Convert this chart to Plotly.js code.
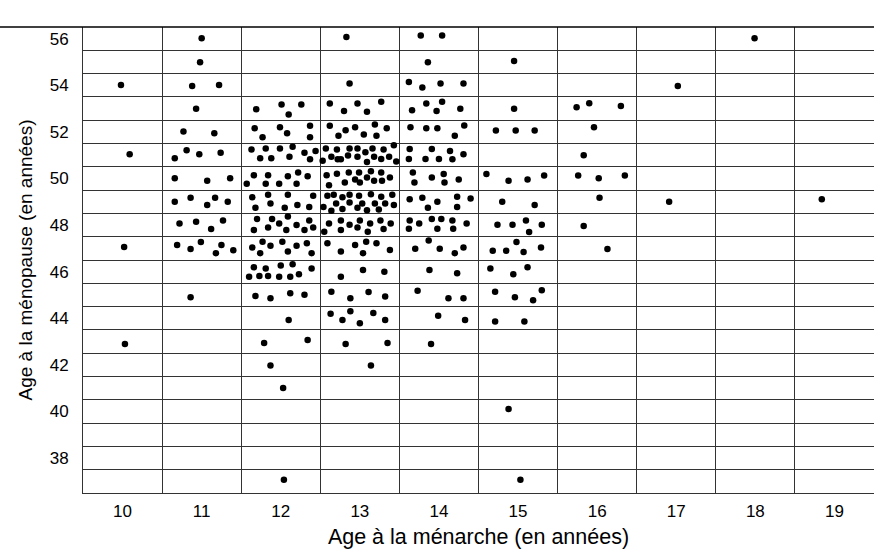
<!DOCTYPE html>
<html><head><meta charset="utf-8">
<script src="https://cdn.plot.ly/plotly-3.0.1.min.js"></script>
<style>html,body{margin:0;padding:0;background:#fff}#chart{width:874px;height:549px}</style>
</head><body><div id="chart"></div>
<script>
// Age at menarche (x) and age at menopause (y), one pair of arrays per menarche column
const menarche10 = [9.98, 10.09, 10.02, 10.03];
const menopause10 = [54.01, 51.04, 47.06, 42.90];

const menarche11 = [11.00, 10.98, 10.88, 11.22, 10.93, 10.77, 11.16, 10.81, 10.66, 10.97, 11.24, 10.66, 11.07, 11.36, 10.66, 10.86, 11.07, 11.17, 11.33, 10.72, 10.93, 11.12, 11.27, 10.69, 10.86, 10.99, 11.25, 11.18, 11.40, 10.86];
const menopause11 = [56.02, 54.99, 53.97, 54.01, 52.99, 52.02, 51.94, 51.21, 50.87, 51.04, 51.10, 50.01, 49.90, 50.01, 49.00, 49.17, 48.86, 49.17, 49.00, 48.07, 48.14, 47.83, 48.20, 47.14, 46.97, 47.27, 47.14, 46.79, 46.92, 44.90];

const menarche12 = [11.69, 12.01, 12.10, 12.26,
  11.67, 11.77, 11.99, 12.08, 12.37, 12.37,
  11.63, 11.81, 11.99, 12.15, 11.74, 11.88, 12.11, 12.30, 12.44, 12.37,
  11.66, 11.84, 11.57, 11.81, 11.98, 12.09, 12.22, 12.34, 12.20,
  11.64, 11.84, 12.09, 12.41, 11.68, 11.87, 12.05, 12.21, 12.36,
  11.70, 11.89, 11.98, 12.09, 11.66, 11.84, 12.07, 12.20, 12.30, 12.36, 12.41,
  11.64, 11.74, 11.77, 11.87, 12.02, 12.09, 12.20, 12.33, 12.39,
  11.66, 11.81, 12.00, 12.15, 12.39, 11.60, 11.73, 11.84, 11.98, 12.12, 12.23,
  11.68, 11.87, 12.12, 12.30,
  12.10, 11.79, 12.34, 11.87, 12.03, 12.04];
const menopause12 = [52.97, 53.17, 52.74, 53.17,
  52.15, 51.77, 52.20, 51.94, 52.26, 51.77,
  51.24, 51.29, 51.29, 51.36, 50.87, 50.87, 50.93, 51.10, 51.18, 50.82,
  50.14, 50.14, 49.77, 49.77, 49.77, 50.09, 50.26, 50.09, 49.77,
  49.19, 49.30, 49.30, 49.26, 48.74, 48.93, 48.74, 48.86, 48.78,
  48.26, 48.26, 48.07, 48.37, 47.79, 47.90, 47.79, 48.00, 47.79, 48.20, 47.90,
  47.04, 46.79, 47.28, 47.11, 47.28, 46.86, 47.11, 47.22, 46.79,
  46.19, 46.14, 46.26, 46.32, 46.14, 45.78, 45.81, 45.81, 45.78, 45.78, 45.89,
  44.96, 44.86, 45.07, 45.01,
  43.93, 42.94, 43.07, 41.97, 41.01, 37.07];

const menarche13 = [12.83, 12.87,
  12.62, 12.80, 12.97, 13.09, 13.27,
  12.62, 12.73, 12.82, 12.94, 13.05, 13.19, 13.21, 13.34,
  12.53, 12.57, 12.71, 12.87, 12.97, 12.64, 12.72, 12.76, 12.85, 12.97, 13.07, 13.16, 13.30, 13.43, 13.09, 13.18, 13.27, 13.37, 13.46,
  12.58, 12.71, 12.86, 12.99, 12.61, 12.81, 12.94, 13.14, 13.27, 13.09, 13.18, 13.28, 13.38, 13.00,
  12.59, 12.67, 12.78, 12.87, 12.99, 13.14, 13.27, 13.41, 12.54, 12.64, 12.70, 12.78, 12.87, 12.97, 13.03, 13.09, 13.19, 13.24, 13.32, 13.43,
  12.55, 12.61, 12.76, 12.76, 12.87, 12.97, 13.00, 13.13, 13.10, 13.26, 13.30, 13.39,
  12.59, 12.76, 12.94, 13.08, 13.21, 13.04, 13.38,
  12.76, 13.04, 13.31,
  12.64, 12.88, 13.11, 13.32,
  12.63, 12.78, 12.88, 13.00, 13.17, 13.32,
  12.82, 13.35, 13.14];
const menopause13 = [56.07, 54.07,
  53.22, 52.89, 53.22, 52.86, 53.29,
  52.26, 51.83, 52.07, 52.20, 51.89, 52.32, 51.83, 52.15,
  50.76, 51.29, 51.24, 51.29, 51.29, 50.93, 50.82, 50.82, 50.99, 50.93, 51.12, 51.29, 51.24, 51.42, 50.71, 50.93, 50.83, 50.93, 50.73,
  50.14, 50.20, 50.26, 50.26, 49.71, 49.83, 49.96, 50.31, 50.26, 50.04, 49.90, 49.90, 50.04, 49.83,
  49.26, 49.30, 49.19, 49.30, 49.26, 49.32, 49.21, 49.30, 48.78, 48.61, 48.93, 48.69, 48.97, 48.74, 48.93, 48.64, 48.93, 48.67, 48.93, 48.86,
  47.71, 48.07, 48.20, 47.79, 48.01, 47.90, 48.20, 48.07, 47.71, 48.20, 47.83, 48.07,
  47.22, 46.86, 47.14, 47.28, 47.22, 46.79, 46.93,
  45.78, 46.07, 46.00,
  45.14, 44.86, 45.13, 44.93,
  44.19, 43.93, 44.30, 43.79, 44.23, 43.93,
  42.89, 42.94, 41.97];

const menarche14 = [13.77, 14.04, 13.86,
  13.62, 13.79, 14.02, 14.31,
  13.66, 13.84, 13.97, 14.04, 14.27,
  13.64, 13.84, 13.98, 14.20, 14.32,
  13.63, 13.91, 14.14, 14.31, 13.62, 13.83, 14.00, 14.17,
  13.67, 13.91, 14.06, 14.25, 13.69, 14.07,
  13.63, 13.79, 14.23, 14.40, 13.86, 13.98, 14.23,
  13.63, 13.62, 13.75, 13.91, 14.03, 13.98, 14.17, 14.18, 14.35,
  13.87, 13.70, 14.01, 14.20, 14.31,
  13.88, 14.23,
  13.73, 14.12, 14.31,
  13.99, 14.33, 13.90];
const menopause14 = [56.14, 56.14, 54.99,
  54.14, 53.90, 54.07, 54.07,
  52.93, 53.22, 52.89, 53.29, 52.99,
  52.20, 52.15, 52.15, 51.83, 52.27,
  51.26, 51.26, 51.18, 51.04, 50.83, 50.83, 50.83, 50.82,
  50.26, 50.04, 50.19, 49.96, 49.83, 49.83,
  49.11, 49.17, 49.21, 49.14, 48.74, 49.00, 48.78,
  48.20, 47.84, 48.07, 48.26, 48.26, 47.84, 48.20, 47.84, 48.07,
  47.34, 46.98, 46.98, 46.79, 47.04,
  46.07, 45.93,
  45.18, 44.86, 44.86,
  44.11, 43.93, 42.89];

const menarche15 = [14.95, 14.95, 14.72, 14.97, 15.21, 14.60, 14.88, 15.12, 15.33, 14.80, 15.21, 14.74, 14.93, 15.10, 15.14, 15.30, 14.68, 14.85, 14.98, 15.07, 15.29, 14.65, 14.94, 15.12, 14.71, 14.96, 15.19, 15.30, 14.71, 15.08, 14.88, 15.03];
const menopause15 = [55.04, 52.99, 52.06, 52.06, 52.06, 50.19, 49.90, 49.96, 50.13, 49.00, 48.86, 48.01, 48.01, 48.20, 47.70, 48.01, 46.90, 46.90, 47.27, 46.84, 47.04, 46.13, 45.89, 46.19, 45.14, 44.90, 44.77, 45.20, 43.86, 43.86, 40.10, 37.07];

const menarche16 = [15.74, 15.90, 16.30, 15.96, 15.83, 15.76, 16.02, 16.35, 16.03, 15.83, 16.13];
const menopause16 = [53.06, 53.23, 53.11, 52.20, 51.00, 50.13, 50.01, 50.13, 49.17, 47.96, 46.97];

const menarche17to19 = [17.02, 16.91, 17.99, 18.84];
const menopause17to19 = [53.97, 49.00, 56.02, 49.11];

const xTicks = [10, 11, 12, 13, 14, 15, 16, 17, 18, 19];
const yTicks = [38, 40, 42, 44, 46, 48, 50, 52, 54, 56];
const xCellEdges = [10.5, 11.5, 12.5, 13.5, 14.5, 15.5, 16.5, 17.5, 18.5];
const yCellEdges = [37.5, 38.5, 39.5, 40.5, 41.5, 42.5, 43.5, 44.5, 45.5, 46.5, 47.5, 48.5, 49.5, 50.5, 51.5, 52.5, 53.5, 54.5, 55.5];

const xs = [].concat(menarche10, menarche11, menarche12, menarche13, menarche14, menarche15, menarche16, menarche17to19);
const ys = [].concat(menopause10, menopause11, menopause12, menopause13, menopause14, menopause15, menopause16, menopause17to19);

const FONT = 'Liberation Sans, Arial, Helvetica, sans-serif';
const LINE = '#333333';

const trace = {
  type: 'scatter', mode: 'markers', x: xs, y: ys,
  marker: {color: '#000', size: 6.5, line: {width: 0}},
  hoverinfo: 'x+y', cliponaxis: false
};

const layout = {
  width: 874, height: 549,
  margin: {l: 83, r: 0, t: 27, b: 56},
  paper_bgcolor: '#fff', plot_bgcolor: '#fff',
  showlegend: false,
  font: {family: FONT, color: '#000'},
  xaxis: {
    range: [9.5, 19.5], tickmode: 'array', tickvals: xTicks, ticktext: xTicks.map(String),
    showgrid: false, zeroline: false, showline: true, linecolor: LINE, linewidth: 1,
    ticks: 'outside', ticklen: 3, tickcolor: 'rgba(0,0,0,0)',
    tickfont: {family: FONT, size: 17, color: '#000'},
    minor: {tickmode: 'array', tickvals: xCellEdges, showgrid: true, gridcolor: LINE, gridwidth: 1, ticks: ''},
    title: {text: 'Age à la ménarche (en années)', font: {family: FONT, size: 21.5, color: '#000'}, standoff: 8},
    fixedrange: true
  },
  yaxis: {
    range: [36.5, 56.5], tickmode: 'array', tickvals: yTicks, ticktext: yTicks.map(String),
    showgrid: false, zeroline: false, showline: true, linecolor: LINE, linewidth: 1,
    ticks: 'outside', ticklen: 10, tickcolor: 'rgba(0,0,0,0)',
    tickfont: {family: FONT, size: 17, color: '#000'},
    minor: {tickmode: 'array', tickvals: yCellEdges, showgrid: true, gridcolor: LINE, gridwidth: 1, ticks: ''},
    title: {text: 'Age à la ménopause (en années)', font: {family: FONT, size: 19, color: '#000'}, standoff: 12},
    fixedrange: true
  },
  shapes: [
    {type: 'line', xref: 'paper', yref: 'paper', x0: -83 / 791, x1: 1, y0: 1, y1: 1, line: {color: '#000', width: 1.5}}
  ]
};

Plotly.newPlot('chart', [trace], layout, {displayModeBar: false, staticPlot: true});
</script>
</body></html>
